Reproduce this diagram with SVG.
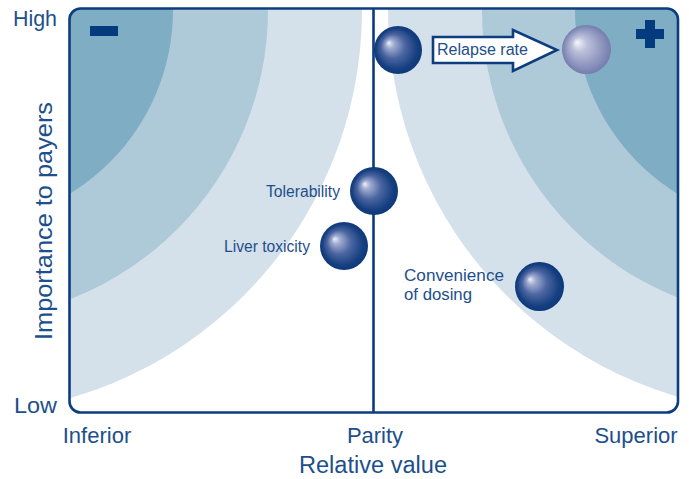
<svg xmlns="http://www.w3.org/2000/svg" width="689" height="479" viewBox="0 0 689 479">
  <style>
    .lbl { font-family: "Liberation Sans", Arial, sans-serif; fill: #1d4f8c; }
    .axis { font-size: 22px; }
    .pt { font-size: 16px; }
    .frame { fill: none; stroke: #0b3d7f; stroke-width: 2.6; }
    .band1 { fill: #d4e1ea; }
    .band2 { fill: #aec9d7; }
    .band3 { fill: #7fadc3; }
    .sign { fill: #033b7e; }
  </style>
  <defs>
    <clipPath id="plotArea">
      <rect x="69.5" y="8.5" width="608.5" height="404" rx="11" ry="11"/>
    </clipPath>
    <radialGradient id="ball" cx="0.5" cy="0.5" r="0.5" fx="0.3" fy="0.35">
      <stop offset="0" stop-color="#eef1f8"/>
      <stop offset="0.18" stop-color="#9eabcf"/>
      <stop offset="0.5" stop-color="#4b65a1"/>
      <stop offset="0.85" stop-color="#163f80"/>
      <stop offset="1" stop-color="#0c397b"/>
    </radialGradient>
    <radialGradient id="ballLight" cx="0.5" cy="0.5" r="0.5" fx="0.3" fy="0.35">
      <stop offset="0" stop-color="#f6f7fb"/>
      <stop offset="0.3" stop-color="#bcc1da"/>
      <stop offset="0.75" stop-color="#8d95bf"/>
      <stop offset="1" stop-color="#747dac"/>
    </radialGradient>
  </defs>

  <!-- shaded value zones, clipped to the plot frame -->
  <g id="zones" clip-path="url(#plotArea)">
    <circle class="band1" cx="-42" cy="10" r="404"/>
    <circle class="band2" cx="-42" cy="10" r="310"/>
    <circle class="band3" cx="-42" cy="10" r="215"/>
    <circle class="band1" cx="791" cy="10" r="403"/>
    <circle class="band2" cx="791" cy="10" r="309"/>
    <circle class="band3" cx="791" cy="10" r="216"/>
  </g>

  <!-- plot frame and parity line -->
  <g id="frame">
    <rect class="frame" x="69.5" y="8.5" width="608.5" height="404" rx="11" ry="11"/>
    <line class="frame" x1="373.5" y1="8.5" x2="373.5" y2="412.5"/>
    <rect class="sign" x="90" y="26" width="28" height="10"/>
    <path class="sign" d="M645 20h10v9h9v10h-9v9h-10v-9h-9v-10h9z"/>
  </g>

  <!-- axis labels -->
  <g id="axes">
    <text class="lbl axis" x="13" y="26" textLength="44" lengthAdjust="spacingAndGlyphs">High</text>
    <text class="lbl axis" x="14" y="413" textLength="43" lengthAdjust="spacingAndGlyphs">Low</text>
    <text class="lbl axis" x="97" y="443" text-anchor="middle">Inferior</text>
    <text class="lbl axis" x="375" y="443" text-anchor="middle">Parity</text>
    <text class="lbl axis" x="636" y="443" text-anchor="middle">Superior</text>
    <text class="lbl axis" x="299" y="473" style="font-size:23px" textLength="148" lengthAdjust="spacingAndGlyphs">Relative value</text>
    <text class="lbl axis" transform="translate(52 340) rotate(-90)" style="font-size:24px" textLength="238" lengthAdjust="spacingAndGlyphs">Importance to payers</text>
  </g>

  <!-- connectors -->
  <g id="connectors">
    <path d="M433 37H513V30L557 50L513 71V63H433Z" fill="#ffffff" stroke="#0b3d7f" stroke-width="2.6" stroke-linejoin="miter"/>
    <text class="lbl pt" x="437" y="55" textLength="91" lengthAdjust="spacingAndGlyphs">Relapse rate</text>
  </g>

  <!-- data points -->
  <g id="relapse-now">
    <circle cx="398" cy="50" r="24" fill="url(#ball)"/>
  </g>
  <g id="relapse-target">
    <circle cx="586.5" cy="49.5" r="24.5" fill="url(#ballLight)"/>
  </g>
  <g id="tolerability">
    <circle cx="374" cy="191" r="24" fill="url(#ball)"/>
    <text class="lbl pt" x="266" y="197" textLength="74" lengthAdjust="spacingAndGlyphs">Tolerability</text>
  </g>
  <g id="liver-toxicity">
    <circle cx="344" cy="246" r="24" fill="url(#ball)"/>
    <text class="lbl pt" x="224" y="252" textLength="86" lengthAdjust="spacingAndGlyphs">Liver toxicity</text>
  </g>
  <g id="convenience">
    <circle cx="539.5" cy="286.5" r="24.5" fill="url(#ball)"/>
    <text class="lbl pt" x="404" y="281" textLength="100" lengthAdjust="spacingAndGlyphs">Convenience</text>
    <text class="lbl pt" x="404" y="300" textLength="68" lengthAdjust="spacingAndGlyphs">of dosing</text>
  </g>
</svg>
